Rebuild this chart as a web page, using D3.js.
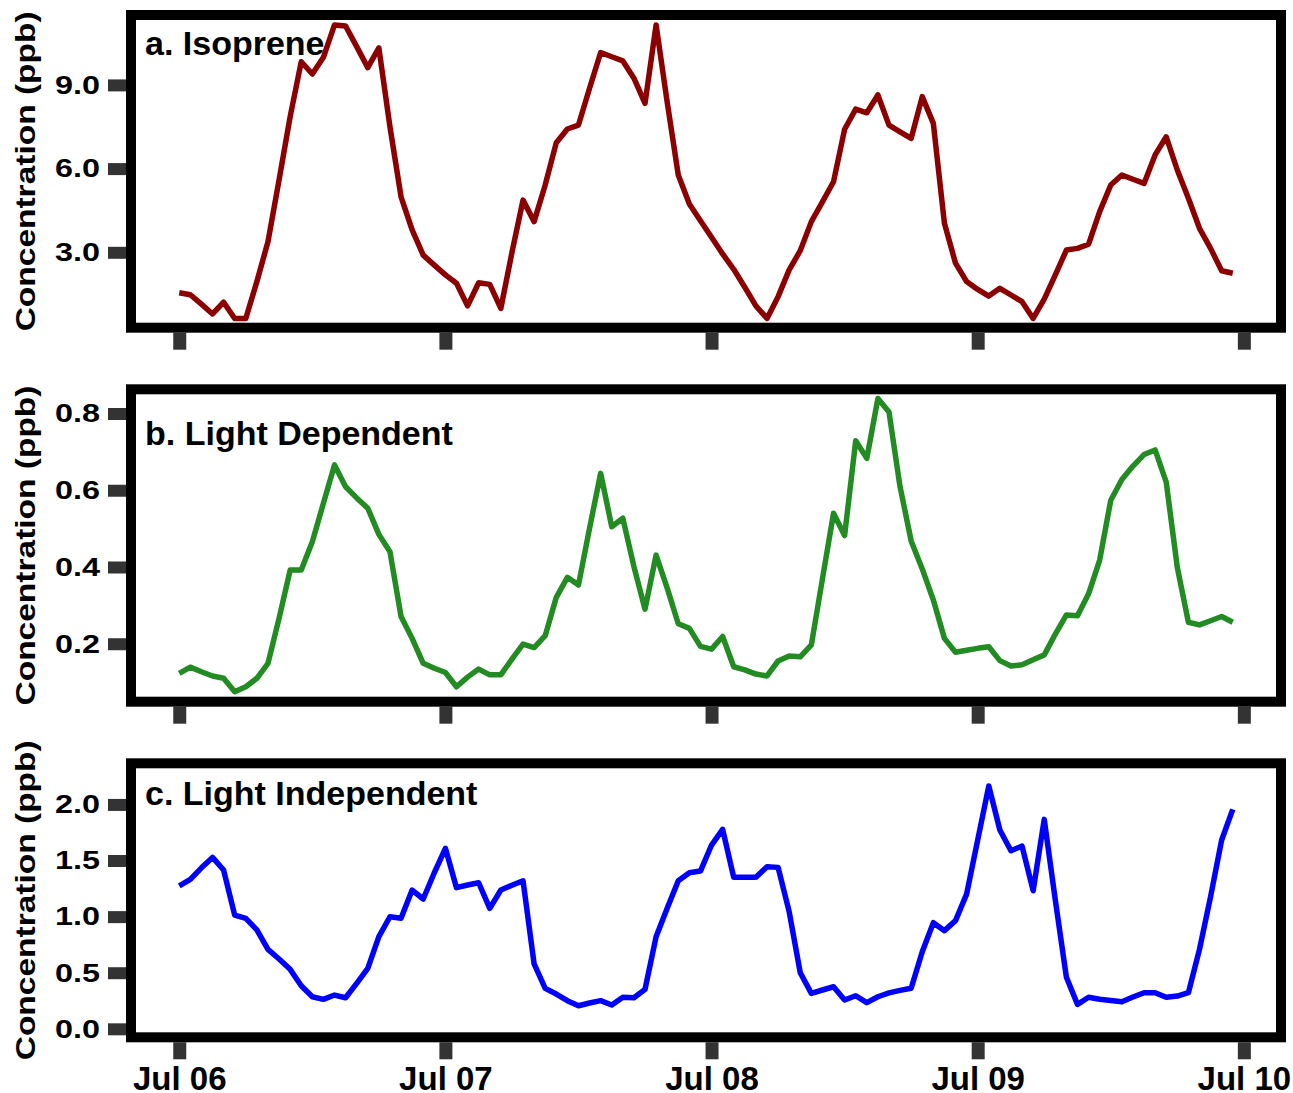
<html>
<script src="https://d3js.org/d3.v7.min.js"></script>
<style>
  body { margin: 0; background: #fff; }
  text { font-family: "Liberation Sans", Arial, sans-serif; font-weight: bold; }
</style>
<body>
<script>
// hourly series, Jul 06 00:00 .. Jul 09 23:00
const startHour = Date.UTC(2013, 6, 6, 0);

const isoprene = [1.55, 1.48, 1.14, 0.79, 1.21, 0.63, 0.63, 1.95, 3.38, 5.59, 7.86, 9.83,
  9.39, 9.99, 11.15, 11.11, 10.37, 9.62, 10.33, 7.50, 4.99, 3.80, 2.90, 2.54,
  2.19, 1.89, 1.08, 1.91, 1.85, 0.99, 2.99, 4.87, 4.10, 5.41, 6.93, 7.42,
  7.56, 8.88, 10.16, 10.01, 9.86, 9.24, 8.34, 11.15, 8.38, 5.77, 4.73, 4.13,
  3.54, 2.94, 2.39, 1.75, 1.08, 0.63, 1.41, 2.37, 3.06, 4.10, 4.81, 5.53,
  7.41, 8.13, 8.00, 8.64, 7.56, 7.32, 7.08, 8.58, 7.62, 4.04, 2.61, 1.95,
  1.67, 1.43, 1.71, 1.47, 1.23, 0.63, 1.32, 2.19, 3.08, 3.14, 3.29, 4.46,
  5.41, 5.77, 5.62, 5.47, 6.49, 7.14, 5.95, 4.94, 3.86, 3.14, 2.34, 2.25];

const lightDependent = [0.123, 0.139, 0.127, 0.116, 0.110, 0.075, 0.088, 0.110, 0.149, 0.266, 0.392, 0.392,
  0.466, 0.566, 0.666, 0.609, 0.580, 0.553, 0.485, 0.440, 0.271, 0.214, 0.149, 0.136,
  0.125, 0.088, 0.113, 0.134, 0.119, 0.119, 0.160, 0.199, 0.190, 0.221, 0.321, 0.373,
  0.353, 0.501, 0.644, 0.505, 0.527, 0.401, 0.290, 0.431, 0.345, 0.252, 0.240, 0.193,
  0.186, 0.219, 0.140, 0.132, 0.121, 0.116, 0.155, 0.168, 0.166, 0.197, 0.369, 0.540,
  0.482, 0.729, 0.683, 0.839, 0.804, 0.609, 0.468, 0.395, 0.314, 0.214, 0.178, 0.183,
  0.188, 0.192, 0.156, 0.142, 0.145, 0.158, 0.171, 0.225, 0.275, 0.273, 0.330, 0.418,
  0.574, 0.628, 0.663, 0.693, 0.705, 0.621, 0.399, 0.256, 0.249, 0.260, 0.271, 0.256];

const lightIndependent = [1.275, 1.332, 1.435, 1.528, 1.415, 1.014, 0.985, 0.881, 0.708, 0.622, 0.530, 0.384,
  0.286, 0.263, 0.301, 0.277, 0.405, 0.539, 0.821, 0.999, 0.985, 1.237, 1.157, 1.391,
  1.609, 1.258, 1.282, 1.302, 1.074, 1.237, 1.280, 1.320, 0.578, 0.361, 0.310, 0.251,
  0.206, 0.230, 0.251, 0.212, 0.281, 0.277, 0.352, 0.821, 1.074, 1.320, 1.391, 1.406,
  1.638, 1.778, 1.350, 1.350, 1.350, 1.445, 1.439, 1.044, 0.500, 0.316, 0.346, 0.375,
  0.257, 0.295, 0.233, 0.286, 0.320, 0.343, 0.361, 0.687, 0.946, 0.875, 0.964, 1.201,
  1.683, 2.164, 1.772, 1.587, 1.629, 1.231, 1.867, 1.148, 0.459, 0.218, 0.281, 0.263,
  0.252, 0.242, 0.283, 0.322, 0.322, 0.281, 0.292, 0.322, 0.708, 1.177, 1.683, 1.956];

const titles = ["a. Isoprene", "b. Light Dependent", "c. Light Independent"];
const colors = ["#8b0000", "#228b22", "#0000ff"];
const yTicks = [[3, 6, 9], [0.2, 0.4, 0.6, 0.8], [0, 0.5, 1.0, 1.5, 2.0]];
const yDomains = [[0.477, 11.326], [0.062, 0.850], [-0.031, 2.322]];
const xTickDates = [Date.UTC(2013, 6, 6), Date.UTC(2013, 6, 7), Date.UTC(2013, 6, 8),
  Date.UTC(2013, 6, 9), Date.UTC(2013, 6, 10)];
const yLabel = "Concentration (ppb)";

// layout (inner plot box of each panel)
const panels = [
  {top: 20, bottom: 322.7, titleY: 35},
  {top: 394.3, bottom: 696.7, titleY: 50.7},
  {top: 768.3, bottom: 1032.3, titleY: 36.7}
];
const left = 136, right = 1276, border = 10;

const series = [isoprene, lightDependent, lightIndependent];
const hour = 3600 * 1000;

const x = d3.scaleUtc()
  .domain([new Date(startHour - 3.9 * hour), new Date(startHour + 95 * hour + 3.9 * hour)])
  .range([left, right]);

const svg = d3.select("body").append("svg")
  .attr("width", 1293).attr("height", 1093);

panels.forEach((p, k) => {
  const y = d3.scaleLinear().domain(yDomains[k]).range([p.bottom, p.top]);
  const g = svg.append("g");

  const line = d3.line()
    .x((d, i) => x(new Date(startHour + i * hour)))
    .y(d => y(d));

  g.append("path")
    .datum(series[k])
    .attr("d", line)
    .attr("fill", "none")
    .attr("stroke", colors[k])
    .attr("stroke-width", 5.5)
    .attr("stroke-linejoin", "round");

  // y axis
  const ya = g.append("g")
    .attr("transform", `translate(${left - border},0)`)
    .call(d3.axisLeft(y).tickValues(yTicks[k]).tickFormat(d3.format(".1f"))
      .tickSize(18).tickPadding(8));
  ya.select(".domain").remove();
  ya.selectAll(".tick line").attr("stroke", "#333").attr("stroke-width", 12);
  ya.selectAll(".tick text")
    .attr("fill", "#000")
    .style("font-size", "26px")
    .attr("textLength", 45)
    .attr("lengthAdjust", "spacingAndGlyphs");

  // x axis
  const xa = g.append("g")
    .attr("transform", `translate(0,${p.bottom + border})`)
    .call(d3.axisBottom(x).tickValues(xTickDates.map(d => new Date(d)))
      .tickFormat(k === 2 ? d3.utcFormat("%b %d") : "")
      .tickSize(17).tickPadding(7));
  xa.select(".domain").remove();
  xa.selectAll(".tick line").attr("stroke", "#333").attr("stroke-width", 13);
  xa.selectAll(".tick text")
    .attr("fill", "#000")
    .style("font-size", "33px");

  // frame
  g.append("rect")
    .attr("x", left - border / 2)
    .attr("y", p.top - border / 2)
    .attr("width", right - left + border)
    .attr("height", p.bottom - p.top + border)
    .attr("fill", "none")
    .attr("stroke", "#000")
    .attr("stroke-width", border);

  g.append("text")
    .attr("x", 145)
    .attr("y", p.top + p.titleY)
    .style("font-size", "34px")
    .text(titles[k]);

  const cy = (p.top + p.bottom) / 2;
  g.append("text")
    .attr("transform", `translate(35,${cy}) rotate(-90)`)
    .attr("text-anchor", "middle")
    .style("font-size", "28px")
    .attr("textLength", 320)
    .attr("lengthAdjust", "spacingAndGlyphs")
    .text(yLabel);
});
</script>
</body>
</html>
